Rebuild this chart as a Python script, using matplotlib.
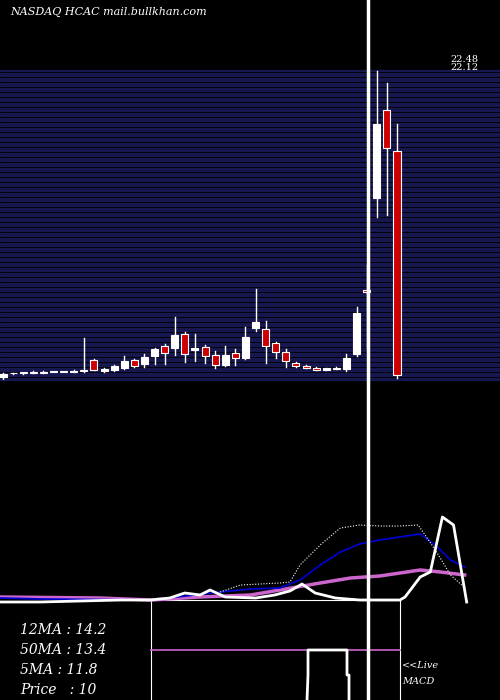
import matplotlib
matplotlib.use("Agg")
import matplotlib.pyplot as plt
import numpy as np

# ---- data ----
opens  = [9.9,10.07,10.08,10.1,10.14,10.12,10.12,10.14,10.15,10.62,10.16,10.2,10.29,10.62,10.45,10.78,11.19,11.11,11.68,11.03,
          11.15,10.82,10.41,10.9,10.7,11.93,11.89,11.31,10.94,10.49,10.37,10.29,10.21,10.29,10.25,10.86,13.48,17.27,20.88,19.2]
highs  = [10.1,10.1,10.1,10.16,10.16,10.13,10.13,10.2,11.52,10.65,10.3,10.4,10.78,10.66,10.86,11.1,11.27,12.38,11.76,11.68,
          11.23,10.98,11.19,11.07,11.97,13.52,12.22,11.35,11.07,10.53,10.4,10.31,10.3,10.31,10.86,12.8,14.5,22.48,22.0,20.3]
lows   = [9.85,10.06,10.06,10.1,10.09,10.11,10.11,10.12,10.12,10.2,10.14,10.18,10.25,10.33,10.33,10.45,10.45,10.82,10.53,10.57,
          10.49,10.29,10.37,10.41,10.66,11.81,10.49,10.7,10.33,10.33,10.27,10.19,10.19,10.23,10.16,10.8,11.11,16.49,16.57,9.88]
closes = [10.05,10.09,10.09,10.14,10.1,10.12,10.12,10.18,10.2,10.21,10.25,10.37,10.57,10.37,10.74,11.07,10.9,11.64,10.86,11.11,
          10.78,10.41,10.82,10.7,11.56,12.18,11.19,10.94,10.57,10.37,10.29,10.21,10.29,10.25,10.7,12.55,13.42,20.3,19.32,10.0]

macd_x   = [-0.3,3.7,14.6,21.5,24.5,27.4,29.4,31.4,33.4,35.3,37.3,39.3,41.3,42.8,44.3,45.7]
macd_v   = [0.2,0.1,0.0,0.8,1.1,1.2,2.0,3.5,4.8,5.6,6.0,6.3,6.6,5.5,4.0,3.3]
sig_x    = [-0.3,9.6,14.6,19.5,24.5,27.4,31.4,34.4,37.3,39.3,41.3,43.3,45.7]
sig_v    = [0.3,0.2,0.0,0.3,0.5,1.0,1.7,2.2,2.4,2.7,3.0,2.8,2.5]
dot_x    = [21.5,23.5,27.4,28.4,29.4,31.4,33.4,35.3,37.3,39.3,41.1,42.8,44.3,45.4]
dot_v    = [0.8,1.5,1.7,1.8,3.5,5.5,7.2,7.5,7.4,7.4,7.5,5.0,2.5,1.5]
hist_x   = [-0.3,3.7,11.6,14.6,16.5,18.0,19.5,20.5,22.0,25.0,26.9,28.4,29.6,30.9,32.9,35.3,39.3,39.8,41.3,42.3,43.5,44.6,45.9]
hist_v   = [-0.2,-0.2,0.0,0.0,0.2,0.7,0.5,1.0,0.3,0.2,0.5,0.9,1.6,0.7,0.2,0.0,0.0,0.3,2.3,2.8,8.3,7.5,-0.2]

labels = ["12MA : 14.2", "50MA : 13.4", "5MA : 11.8", "Price   : 10"]

fig = plt.figure(figsize=(5, 7), dpi=100)
fig.patch.set_facecolor("black")

bg = fig.add_axes([0, 0, 1, 1])
bg.set_xlim(0, 500); bg.set_ylim(700, 0); bg.axis("off")
bg.add_patch(plt.Rectangle((0, 70), 500, 310, color="#17174f", zorder=0))
for y in np.arange(72, 380, 5):
    bg.plot([0, 500], [y, y], color="black", lw=0.6, zorder=1)
bg.text(10, 12, "NASDAQ HCAC mail.bullkhan.com", color="white", fontsize=8,
        family="DejaVu Serif", style="italic", va="center")
bg.text(450, 60, "22.48", color="white", fontsize=7, family="DejaVu Serif", va="center")
bg.text(450, 68, "22.12", color="white", fontsize=7, family="DejaVu Serif", va="center")
for i, t in enumerate(labels):
    bg.text(20, 630 + i * 20, t, color="white", fontsize=10, family="DejaVu Serif",
            style="italic", va="center")
bg.text(402, 666, "<<Live", color="white", fontsize=7, family="DejaVu Serif", style="italic", va="center")
bg.text(402, 681, "MACD", color="white", fontsize=7, family="DejaVu Serif", style="italic", va="center")
bg.plot([151, 151, 400, 400], [700, 600, 600, 700], color="white", lw=0.8)
bg.plot([151, 400], [650, 650], color="#cc66cc", lw=1.2)
bg.plot([307, 308, 308, 347, 347, 349, 349], [700, 675, 650, 650, 675, 675, 700], color="white", lw=2)

xl = (-0.3, 49.2)
pa = fig.add_axes([0, 320 / 700, 1, 310 / 700])
pa.set_xlim(*xl); pa.set_ylim(9.795, 22.52); pa.axis("off"); pa.patch.set_alpha(0)
for i, (o, h, l, c) in enumerate(zip(opens, highs, lows, closes)):
    col = "white" if c >= o else "#cc0000"
    pa.plot([i, i], [l, h], color="white", lw=1, zorder=2)
    pa.add_patch(plt.Rectangle((i - 0.35, min(o, c)), 0.7, max(abs(c - o), 0.03),
                               facecolor=col, edgecolor="white", lw=0.8, zorder=3))

ia = fig.add_axes([0, 0, 1, 200 / 700])
ia.set_xlim(*xl); ia.set_ylim(-10, 10); ia.axis("off"); ia.patch.set_alpha(0)
ia.plot(sig_x, sig_v, color="#cc66cc", lw=2.5)
ia.plot(macd_x, macd_v, color="#0000cc", lw=1.3)
ia.plot(dot_x, dot_v, color="white", lw=0.8, ls=(0, (1, 1.5)))
ia.plot(hist_x, hist_v, color="white", lw=2)

bg2 = fig.add_axes([0, 0, 1, 1]); bg2.set_xlim(0, 500); bg2.set_ylim(700, 0); bg2.axis("off")
bg2.patch.set_alpha(0)
bg2.plot([368, 368], [0, 700], color="white", lw=2.5)

fig.savefig("out.png", dpi=100, facecolor="black")
